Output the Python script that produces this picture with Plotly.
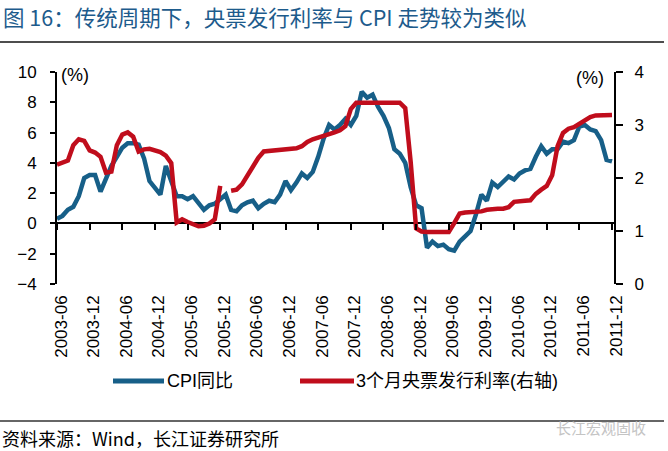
import plotly.graph_objects as go
import pandas as pd

# ---------------- data ----------------
months = pd.date_range("2003-06-01", "2011-12-01", freq="MS").strftime("%Y-%m").tolist()

cpi = [0.3, 0.5, 0.9, 1.1, 1.8, 3.0, 3.2,
       3.2, 2.1, 3.0, 3.8, 4.4, 5.0, 5.3, 5.3, 5.2, 4.3, 2.8, 2.4,
       1.9, 3.8, 2.7, 1.8, 1.8, 1.6, 1.8, 1.3, 0.9, 1.2, 1.3, 1.6,
       1.9, 0.9, 0.8, 1.2, 1.4, 1.5, 1.0, 1.3, 1.5, 1.4, 1.9, 2.8,
       2.2, 2.7, 3.3, 3.0, 3.4, 4.4, 5.6, 6.5, 6.2, 6.5, 6.9, 6.5,
       7.1, 8.7, 8.3, 8.5, 7.7, 7.1, 6.3, 4.9, 4.6, 4.0, 2.4, 1.2,
       1.0, -1.6, -1.2, -1.5, -1.4, -1.7, -1.8, -1.2, -0.8, -0.5, 0.6, 1.9,
       1.5, 2.7, 2.4, 2.8, 3.1, 2.9, 3.3, 3.5, 3.6, 4.4, 5.1, 4.6,
       4.9, 4.9, 5.4, 5.3, 5.5, 6.4, 6.5, 6.2, 6.1, 5.5, 4.2, 4.1]

bill_rate = [2.25, 2.28, 2.33, 2.62, 2.73, 2.70, 2.52,
             2.48, 2.40, 2.10, 2.12, 2.62, 2.82, 2.86, 2.78, 2.50, 2.54, 2.55, 2.51,
             2.49, 2.42, 2.28, 1.16, 1.22, 1.17, 1.14, 1.09, 1.10, 1.14, 1.22, 1.85,
             None, 1.76, 1.78, 1.88, 2.05, 2.22, 2.38, 2.50, 2.51, 2.52, 2.52, 2.53,
             2.53, 2.56, 2.60, 2.68, 2.73, 2.76, 2.79, 2.81, 2.86, 2.90, 2.98, 3.30,
             3.42, 3.42, 3.42, 3.42, 3.42, 3.42, 3.42, 3.42, 3.42, 3.32, 2.30, 1.05,
             0.99, 0.98, 0.98, 0.98, 0.98, 0.98, 1.15, 1.33, 1.35, 1.35, 1.35, 1.37,
             1.40, 1.42, 1.42, 1.42, 1.45, 1.55, 1.57, 1.57, 1.58, 1.70, 1.78, 1.85,
             2.05, 2.60, 2.85, 2.93, 2.96, 3.02, 3.10, 3.15, 3.18, 3.19, 3.19, 3.19]

tick_labels = ["2003-06", "2003-12", "2004-06", "2004-12", "2005-06", "2005-12",
               "2006-06", "2006-12", "2007-06", "2007-12", "2008-06", "2008-12",
               "2009-06", "2009-12", "2010-06", "2010-12", "2011-06", "2011-12"]

left_range = [-4, 10]
right_range = [0, 4]

# ---------------- styling ----------------
BLUE = "#175f88"
RED = "#c00d1c"
W, H = 668, 451
L, R, T, B = 57, 614, 72, 284


def px(x):
    return (x - L) / (R - L)


def py(y):
    return (B - y) / (B - T)


tick_pos = [months.index(t) for t in tick_labels]
xrange_ = [0, (len(months) - 1) * (R - L) / 555.0]

fig = go.Figure()
fig.add_trace(go.Scatter(x=months, y=cpi, mode="lines", name="CPI同比",
                         line=dict(color=BLUE, width=4.5), showlegend=False))
fig.add_trace(go.Scatter(x=months, y=bill_rate, mode="lines", name="3个月央票发行利率(右轴)",
                         yaxis="y2", line=dict(color=RED, width=4.5),
                         connectgaps=False, showlegend=False))
# helper trace so the tick axis on the zero line is drawn
fig.add_trace(go.Scatter(x=[0], y=[None], xaxis="x2", yaxis="y", mode="lines",
                         showlegend=False, hoverinfo="skip"))

FONT = "Liberation Sans, Arial, Noto Sans CJK SC, sans-serif"
CJK = "Noto Sans CJK SC, sans-serif"

fig.update_layout(
    width=W, height=H,
    margin=dict(l=L, r=W - R, t=T, b=H - B, pad=0),
    paper_bgcolor="white", plot_bgcolor="white",
    font=dict(family=FONT, size=17, color="black"),
    xaxis=dict(type="category", range=xrange_, tickmode="array",
               tickvals=[months[i] for i in tick_pos], ticktext=tick_labels,
               tickangle=-90, ticks="", showline=False, showgrid=False,
               zeroline=False, ticklabelshift=4, ticklabelstandoff=7,
               tickfont=dict(size=17)),
    xaxis2=dict(type="linear", overlaying="x", anchor="free",
                position=(0 - left_range[0]) / (left_range[1] - left_range[0]),
                range=xrange_, tickmode="array", tickvals=tick_pos,
                showticklabels=False, ticks="outside", ticklen=6, tickwidth=2,
                tickcolor="black", showline=False, showgrid=False, zeroline=False),
    yaxis=dict(range=left_range, dtick=2, tick0=0, ticks="outside", ticklen=5,
               tickwidth=2, tickcolor="black", showline=True, linewidth=2,
               linecolor="black", showgrid=False, zeroline=True,
               zerolinecolor="black", zerolinewidth=2, ticklabelstandoff=10,
               tickfont=dict(size=17)),
    yaxis2=dict(range=right_range, dtick=1, tick0=0, overlaying="y", side="right",
                anchor="x", ticks="outside", ticklen=7, tickwidth=2,
                tickcolor="black", showline=True, linewidth=2, linecolor="black",
                showgrid=False, zeroline=False, ticklabelstandoff=8,
                tickfont=dict(size=17)),
)

shapes = [
    dict(type="line", xref="paper", yref="paper", x0=px(0), x1=px(664),
         y0=py(42), y1=py(42), line=dict(color="#4d4d4d", width=2)),
    dict(type="line", xref="paper", yref="paper", x0=px(113), x1=px(164),
         y0=py(381), y1=py(381), line=dict(color=BLUE, width=5)),
    dict(type="line", xref="paper", yref="paper", x0=px(300), x1=px(354),
         y0=py(381), y1=py(381), line=dict(color=RED, width=5)),
    dict(type="line", xref="paper", yref="paper", x0=px(0), x1=px(664),
         y0=py(421), y1=py(421), line=dict(color="#333333", width=1.5)),
]
fig.update_layout(shapes=shapes)

annotations = [
    dict(text="图 16：传统周期下，央票发行利率与 CPI 走势较为类似", x=px(1), y=py(17),
         xref="paper", yref="paper", xanchor="left", yanchor="middle", showarrow=False,
         font=dict(family=CJK, size=21.5, color="#1d5b8c")),
    dict(text="(%)", x=px(59), y=py(75), xref="paper", yref="paper",
         xanchor="left", yanchor="middle", showarrow=False, font=dict(size=18)),
    dict(text="(%)", x=px(606), y=py(78), xref="paper", yref="paper",
         xanchor="right", yanchor="middle", showarrow=False, font=dict(size=18)),
    dict(text="CPI同比", x=px(165), y=py(381), xref="paper", yref="paper",
         xanchor="left", yanchor="middle", showarrow=False, font=dict(size=18)),
    dict(text="3个月央票发行利率(右轴)", x=px(354), y=py(381), xref="paper", yref="paper",
         xanchor="left", yanchor="middle", showarrow=False, font=dict(size=18)),
    dict(text="资料来源：Wind，长江证券研究所", x=px(0), y=py(438), xref="paper", yref="paper",
         xanchor="left", yanchor="middle", showarrow=False,
         font=dict(family=CJK, size=18, color="black")),
    dict(text="长江宏观固收", x=px(648), y=py(427), xref="paper", yref="paper",
         xanchor="right", yanchor="middle", showarrow=False,
         font=dict(family=CJK, size=15, color="#c4c4c4")),
]
fig.update_layout(annotations=annotations)

fig.write_html("out.html")
